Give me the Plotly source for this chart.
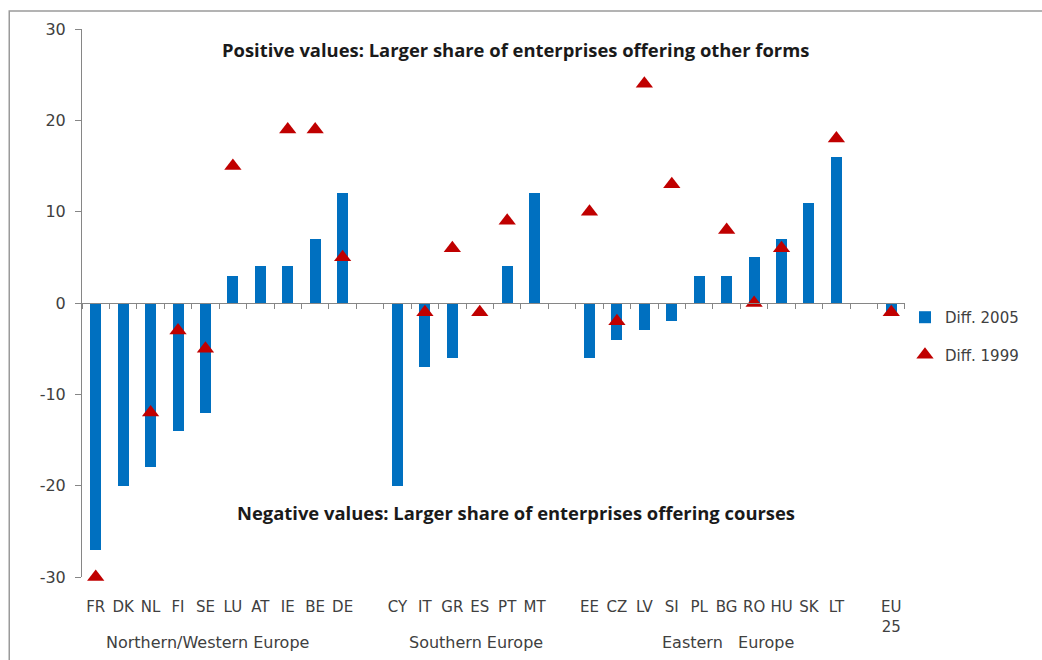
import plotly.graph_objects as go

# ---- data ----
group_names = ["Northern/Western Europe", "Southern Europe", "Eastern   Europe", ""]
group_countries = [
    ["FR", "DK", "NL", "FI", "SE", "LU", "AT", "IE", "BE", "DE"],
    ["CY", "IT", "GR", "ES", "PT", "MT"],
    ["EE", "CZ", "LV", "SI", "PL", "BG", "RO", "HU", "SK", "LT"],
    ["EU<br>25"],
]
diff_2005 = [-27, -20, -18, -14, -12, 3, 4, 4, 7, 12,
             -20, -7, -6, 0, 4, 12,
             -6, -4, -3, -2, 3, 3, 5, 7, 11, 16,
             -1]
diff_1999 = [-30, None, -12, -3, -5, 15, None, 19, 19, 5,
             None, -1, 6, -1, 9, None,
             10, -2, 24, 13, None, 8, 0, 6, None, 18,
             -1]
y_ticks = [-30, -20, -10, 0, 10, 20, 30]
y_tick_text = ["-30", "-20", "-10", "0", "10", "20", "30"]

# styling offsets for group labels (pixels)
group_label_shift = [-12, 10, 15, 0]

# category slots with one empty slot between groups
labels, xpos, group_centers = [], [], []
slot = 0
for gi, cs in enumerate(group_countries):
    start = slot
    for c in cs:
        labels.append(c)
        xpos.append(slot)
        slot += 1
    group_centers.append((start + slot - 1) / 2)
    slot += 1
n_slots = slot - 1
boundaries = [i - 0.5 for i in range(n_slots + 1)]

FONT = "DejaVu Sans"
BFONT = "Open Sans"
TXT = "#404040"
AXC = "#868686"

fig = go.Figure()
fig.add_trace(go.Bar(
    x=xpos, y=diff_2005, name="Diff. 2005", width=0.4,
    marker=dict(color="#0070C0", line=dict(width=0)),
    legendgroup="a",
))
fig.add_trace(go.Scatter(
    x=xpos, y=diff_1999, name="Diff. 1999", mode="markers",
    marker=dict(symbol="triangle-up", size=15, color="#C00000"),
    xaxis="x2", legendgroup="b", cliponaxis=False,
))

annotations = [
    dict(text="<b>Positive values: Larger share of enterprises offering other forms</b>",
         x=0.517, y=0.962, xref="paper", yref="paper", showarrow=False,
         yanchor="middle", xshift=8,
         font=dict(family=BFONT, size=18.4, color="#1a1a1a")),
    dict(text="<b>Negative values: Larger share of enterprises offering courses</b>",
         x=0.517, y=0.1186, xref="paper", yref="paper", showarrow=False,
         yanchor="middle", xshift=9,
         font=dict(family=BFONT, size=18.4, color="#1a1a1a")),
]
for name, cx, sh in zip(group_names, group_centers, group_label_shift):
    if name:
        annotations.append(dict(text=name, x=cx, y=-0.12, xref="x", yref="paper",
                                showarrow=False, yanchor="middle", xshift=sh,
                                font=dict(family=FONT, size=16, color=TXT)))

fig.update_layout(
    width=1042, height=660,
    margin=dict(l=82, r=123, t=29, b=83),
    paper_bgcolor="white", plot_bgcolor="white",
    bargap=0,
    xaxis=dict(range=[-0.5, n_slots - 0.5], tickmode="array", tickvals=xpos,
               ticktext=labels, showline=False, ticks="", showgrid=False,
               zeroline=False, ticklabelstandoff=19, automargin=False,
               tickfont=dict(family=FONT, size=15, color=TXT)),
    xaxis2=dict(range=[-0.5, n_slots - 0.5], overlaying="x", anchor="free",
                position=0.5, side="bottom", showline=True, linecolor=AXC,
                linewidth=1, ticks="outside", ticklen=5, tickcolor=AXC,
                tickmode="array", tickvals=boundaries, showticklabels=False,
                showgrid=False, zeroline=False, automargin=False),
    yaxis=dict(range=[-30, 30], tickmode="array", tickvals=y_ticks,
               ticktext=y_tick_text, showline=True, linecolor=AXC,
               ticks="outside", ticklen=6, tickcolor=AXC, showgrid=False,
               zeroline=False, automargin=False, ticklabelstandoff=6,
               tickfont=dict(family=FONT, size=16, color=TXT)),
    legend=dict(xref="container", yref="container", x=0.8685, y=0.544,
                xanchor="left", yanchor="top",
                font=dict(family=FONT, size=15, color=TXT),
                tracegroupgap=15, bgcolor="rgba(0,0,0,0)"),
    annotations=annotations,
    shapes=[dict(type="rect", xref="paper", yref="paper",
                 x0=-0.0884, x1=1.17, y0=-0.18, y1=1.0328,
                 line=dict(color="#9A9A9A", width=1.5))],
    showlegend=True,
)

fig.write_html("out.html", config={"displayModeBar": False},
               post_script="document.body.style.margin='0';")
